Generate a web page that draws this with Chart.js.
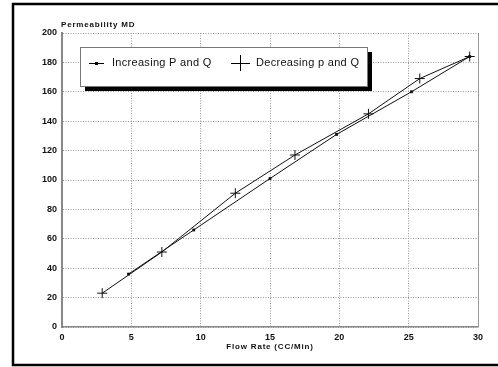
<!DOCTYPE html>
<html>
<head>
<meta charset="utf-8">
<script src="https://cdn.jsdelivr.net/npm/chart.js@4"></script>
<style>
  html, body { margin: 0; padding: 0; background: #fff; }
  #wrap { width: 498px; height: 367px; }
</style>
</head>
<body>
<div id="wrap"><canvas id="myChart" width="498" height="367"></canvas></div>
<script>
// values
const incFlow = [4.8, 9.5, 15.0, 19.8, 25.2, 29.4];
const incPerm = [36, 66, 101, 131, 160, 184];
const decFlow = [2.9, 7.2, 12.5, 16.8, 22.1, 25.8, 29.4];
const decPerm = [23, 51, 91, 117, 145, 169, 184];
const seriesNames = ["Increasing P and Q", "Decreasing p and Q"];
const yTitle = "Permeability MD";
const xTitle = "Flow Rate (CC/Min)";

const toPoints = (xs, ys) => xs.map((x, i) => ({ x, y: ys[i] }));

const font = "'Liberation Sans', Arial, sans-serif";

// frame, axis titles and the shadowed legend box
const decor = {
  id: "decor",
  beforeDraw(chart) {
    const ctx = chart.ctx;
    ctx.save();
    ctx.fillStyle = "#fff";
    ctx.fillRect(0, 0, chart.width, chart.height);
    ctx.restore();
  },
  afterDraw(chart) {
    const ctx = chart.ctx;
    const area = chart.chartArea;
    ctx.save();
    // outer frame
    ctx.strokeStyle = "#000";
    ctx.lineWidth = 2.5;
    ctx.strokeRect(13, 4, 500, 361);

    // y axis title
    ctx.fillStyle = "#111";
    ctx.font = "bold 8px " + font;
    ctx.letterSpacing = "0.8px";
    ctx.textAlign = "left";
    ctx.textBaseline = "middle";
    ctx.fillText(yTitle, area.left - 1, 25);

    // x axis title
    ctx.textAlign = "center";
    ctx.fillText(xTitle, (area.left + area.right) / 2, 347);

    // legend box with black shadow
    const lx = 80, ly = 47, lw = 287, lh = 39;
    ctx.fillStyle = "#000";
    ctx.fillRect(lx + 5, ly + 5, lw, lh);
    ctx.fillStyle = "#fff";
    ctx.fillRect(lx, ly, lw, lh);
    ctx.strokeStyle = "#777";
    ctx.lineWidth = 1;
    ctx.strokeRect(lx + 0.5, ly + 0.5, lw, lh);

    const cy = ly + 16;
    ctx.strokeStyle = "#000";
    ctx.lineWidth = 1;
    // item 1: line + small square
    ctx.beginPath();
    ctx.moveTo(89, cy + 0.5);
    ctx.lineTo(104, cy + 0.5);
    ctx.stroke();
    ctx.fillStyle = "#000";
    ctx.fillRect(95, cy - 1, 3, 3);
    // item 2: cross
    ctx.beginPath();
    ctx.moveTo(231, cy + 0.5);
    ctx.lineTo(250, cy + 0.5);
    ctx.moveTo(240.5, cy - 8);
    ctx.lineTo(240.5, cy + 8);
    ctx.stroke();

    ctx.fillStyle = "#111";
    ctx.font = "11px " + font;
    ctx.letterSpacing = "0.3px";
    ctx.textAlign = "left";
    ctx.fillText(seriesNames[0], 112, cy);
    ctx.fillText(seriesNames[1], 256, cy);
    ctx.restore();
  }
};

Chart.register(decor);

const tickFont = { family: font, size: 9, weight: "bold" };

const ctx = document.getElementById("myChart").getContext("2d");
const myChart = new Chart(ctx, {
  type: "scatter",
  data: {
    datasets: [
      {
        label: seriesNames[0],
        data: toPoints(incFlow, incPerm),
        showLine: true,
        borderColor: "#111",
        backgroundColor: "#111",
        borderWidth: 1,
        pointStyle: "rect",
        pointRadius: 2,
        pointBorderWidth: 0
      },
      {
        label: seriesNames[1],
        data: toPoints(decFlow, decPerm),
        showLine: true,
        borderColor: "#111",
        backgroundColor: "#111",
        borderWidth: 1,
        pointStyle: "cross",
        pointRadius: 5,
        pointBorderWidth: 1
      }
    ]
  },
  options: {
    responsive: false,
    animation: false,
    layout: { padding: { left: 0, right: 20, top: 33, bottom: 12 } },
    plugins: {
      legend: { display: false },
      tooltip: { enabled: false }
    },
    scales: {
      x: {
        type: "linear",
        min: 0,
        max: 30,
        afterFit: (s) => { s.height = 28; },
        ticks: {
          stepSize: 5,
          padding: 5,
          color: "#111",
          font: tickFont
        },
        grid: {
          color: "#9a9a9a",
          lineWidth: 1,
          drawTicks: false
        },
        border: { color: "#888", width: 1.5, dash: [1, 1.5] }
      },
      y: {
        type: "linear",
        min: 0,
        max: 200,
        afterFit: (s) => { s.width = 62; },
        ticks: {
          stepSize: 20,
          padding: 5,
          color: "#111",
          font: tickFont
        },
        grid: {
          color: "#9a9a9a",
          lineWidth: 1,
          drawTicks: false
        },
        border: { color: "#888", width: 2, dash: [1, 1.5] }
      }
    }
  }
});

// right plot edge
const a = myChart.chartArea;
ctx.save();
ctx.strokeStyle = "#999";
ctx.lineWidth = 1;
ctx.beginPath();
ctx.moveTo(a.right + 0.5, a.top);
ctx.lineTo(a.right + 0.5, a.bottom);
ctx.stroke();
ctx.restore();
</script>
</body>
</html>
